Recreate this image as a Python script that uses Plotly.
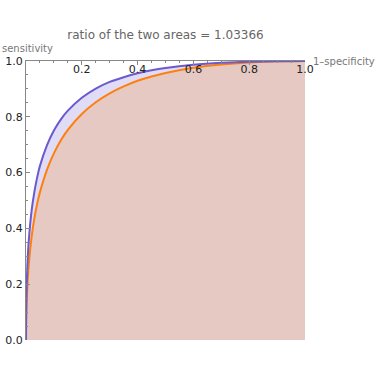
import plotly.graph_objects as go

# 1-specificity (false positive rate) sample points
fpr = [0, 0.0002, 0.0005, 0.001, 0.002, 0.005, 0.01, 0.02, 0.03, 0.04, 0.05, 0.075,
       0.1, 0.125, 0.15, 0.2, 0.25, 0.3, 0.35, 0.4, 0.45, 0.5, 0.6, 0.7, 0.8, 0.9, 1.0]
# sensitivity of the better (purple) test
sens_purple = [0, 0.057, 0.092, 0.129, 0.179, 0.269, 0.357, 0.463, 0.531, 0.583, 0.624, 0.698,
               0.751, 0.791, 0.822, 0.868, 0.901, 0.925, 0.942, 0.956, 0.9667, 0.975, 0.9866,
               0.9935, 0.9975, 0.9994, 1.0]
# sensitivity of the other (orange) test
sens_orange = [0, 0.034, 0.058, 0.085, 0.123, 0.196, 0.272, 0.369, 0.436, 0.488, 0.530, 0.610,
               0.669, 0.716, 0.753, 0.810, 0.852, 0.884, 0.909, 0.929, 0.9445, 0.957, 0.9758,
               0.9876, 0.9948, 0.9987, 1.0]

title_text = "ratio of the two areas = 1.03366"
x_ticks = [0.2, 0.4, 0.6, 0.8, 1.0]
y_ticks = [0.0, 0.2, 0.4, 0.6, 0.8, 1.0]

PURPLE = "#6a5acd"
ORANGE = "#ff7f0e"
PINK = "#e5c9c2"
LAVENDER = "#e0dcf5"

fig = go.Figure()
fig.add_trace(go.Scatter(x=fpr, y=sens_orange, mode="lines", line=dict(width=0, color=ORANGE),
                         fill="tozeroy", fillcolor=PINK, hoverinfo="skip", showlegend=False))
fig.add_trace(go.Scatter(x=fpr, y=sens_purple, mode="lines", line=dict(width=0, color=PURPLE),
                         fill="tonexty", fillcolor=LAVENDER, hoverinfo="skip", showlegend=False))
fig.add_trace(go.Scatter(x=fpr, y=sens_orange, mode="lines", line=dict(width=2, color=ORANGE, shape="spline", smoothing=0.6),
                         showlegend=False))
fig.add_trace(go.Scatter(x=fpr, y=sens_purple, mode="lines", line=dict(width=2, color=PURPLE, shape="spline", smoothing=0.6),
                         showlegend=False))

fig.update_layout(
    width=375, height=375,
    margin=dict(l=26, r=70, t=61, b=35, autoexpand=False),
    paper_bgcolor="white", plot_bgcolor="white",
    font=dict(family="DejaVu Sans", size=11, color="#222"),
    title=dict(text=title_text, x=(26 + 305) / 2 / 375, xanchor="center", y=1 - 34.5 / 375, yanchor="middle",
               font=dict(size=12, color="#666")),
    xaxis=dict(range=[0, 1], side="top", showline=True, linecolor="#888", linewidth=1, automargin=False,
               showgrid=False, zeroline=False, tickvals=x_ticks, ticktext=[f"{v:.1f}" for v in x_ticks],
               ticks="inside", ticklen=4, tickcolor="#888", ticklabelposition="inside",
               ticklabeloverflow="allow", tickfont=dict(size=11, color="#222"),
               minor=dict(dtick=0.05, tick0=0, ticks="inside", ticklen=2, tickcolor="#888")),
    yaxis=dict(range=[0, 1], showline=True, linecolor="#888", linewidth=1, automargin=False,
               showgrid=False, zeroline=False, tickvals=y_ticks, ticktext=[f"{v:.1f}" for v in y_ticks],
               ticks="inside", ticklen=4, tickcolor="#888", ticklabeloverflow="allow",
               tickfont=dict(size=11, color="#222"),
               minor=dict(dtick=0.05, tick0=0, ticks="inside", ticklen=2, tickcolor="#888")),
    annotations=[
        dict(text="sensitivity", xref="paper", yref="paper", x=0, y=1, xshift=-26, yshift=13,
             xanchor="left", yanchor="middle", showarrow=False, font=dict(size=10, color="#777")),
        dict(text="1–specificity", xref="paper", yref="paper", x=1, y=1, xshift=6,
             xanchor="left", yanchor="middle", showarrow=False, font=dict(size=10, color="#777")),
    ],
)

fig.write_html("out.html", config={"displayModeBar": False},
               post_script="document.body.style.margin='0px';")
